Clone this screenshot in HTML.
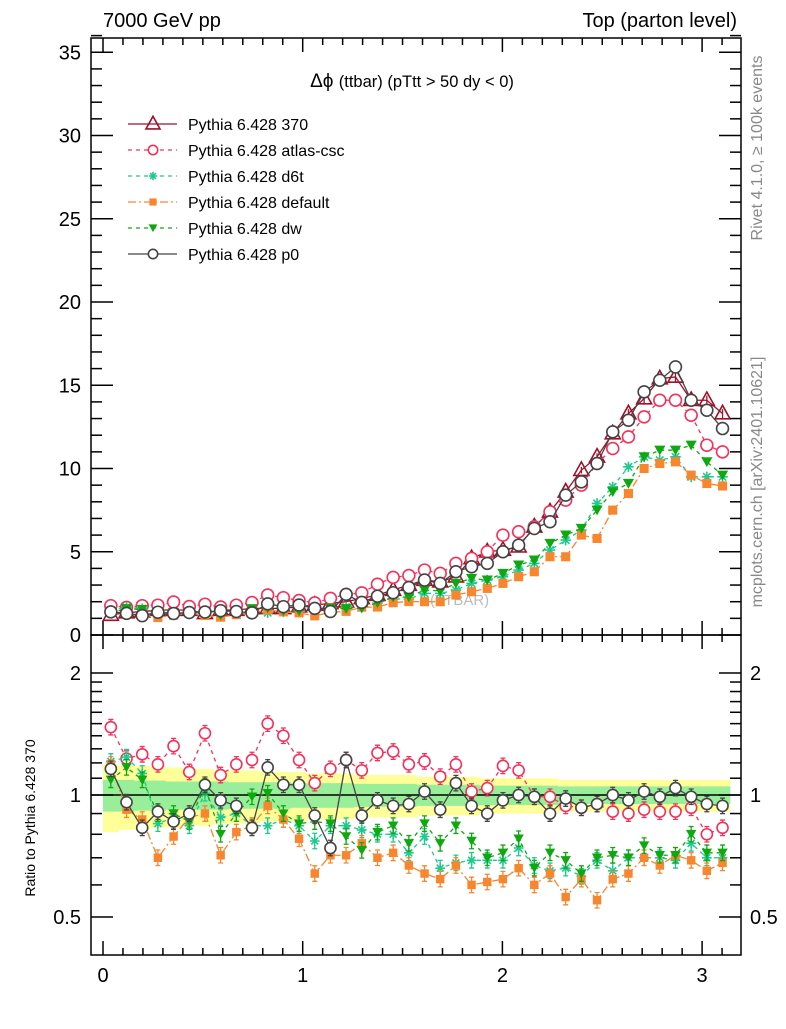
<!DOCTYPE html>
<html><head><meta charset="utf-8"><style>
body{margin:0;background:#fff;width:786px;height:1024px;overflow:hidden}
svg{font-family:"Liberation Sans",sans-serif}
</style></head><body>
<svg id="c" width="786" height="1024" viewBox="0 0 786 1024">
<text x="103" y="27" font-size="20">7000 GeV pp</text>
<text x="737" y="27" font-size="20" text-anchor="end">Top (parton level)</text>
<text x="412" y="87" font-size="19" text-anchor="middle">Δϕ <tspan font-size="16.5">(ttbar) (pTtt &gt; 50 dy &lt; 0)</tspan></text>
<text x="430" y="605" font-size="15" fill="#bbb">(TTBAR)</text>
<text transform="translate(762,148) rotate(-90)" font-size="16" fill="#888" text-anchor="middle">Rivet 4.1.0, ≥ 100k events</text>
<text transform="translate(762,482) rotate(-90)" font-size="16" fill="#888" text-anchor="middle">mcplots.cern.ch [arXiv:2401.10621]</text>
<text transform="translate(35,818) rotate(-90)" font-size="14" text-anchor="middle">Ratio to Pythia 6.428 370</text>
<g id="bands"></g><g id="marks"></g><g id="axes"></g><g id="legend"></g>
</svg>
<script>
const binCount = 40;
const xTicks = [0,1,2,3];
const yTicksMain = [0,5,10,15,20,25,30,35];
const yTicksRatio = [0.5,1,2];
const ref370 = [1.2,1.35,1.4,1.5,1.5,1.5,1.3,1.5,1.5,1.6,1.6,1.6,1.7,1.8,1.9,2.0,2.2,2.4,2.7,3.0,3.3,3.2,3.5,4.6,5.0,5.1,5.3,6.5,7.4,8.6,9.9,10.7,12.1,13.3,14.2,15.4,15.5,14.1,14.1,13.3];
const atlas = [1.76,1.66,1.76,1.79,1.98,1.71,1.85,1.68,1.79,1.95,2.40,2.24,2.07,1.93,2.20,2.44,2.53,3.05,3.46,3.57,3.9,3.7,4.3,4.6,5.0,6.0,6.2,6.5,7.4,8.1,9.0,10.3,11.2,11.9,13.1,14.1,14.1,13.2,11.4,11.0];
const d6t = [1.45,1.67,1.58,1.28,1.32,1.26,1.31,1.32,1.35,1.34,1.34,1.39,1.43,1.39,1.60,1.68,1.80,1.92,2.16,2.16,2.5,2.5,2.7,3.1,3.3,3.5,3.9,4.3,5.1,5.7,6.3,7.9,8.9,10.1,10.7,10.5,10.7,9.5,9.5,9.5];
const deflt = [1.43,1.24,1.22,1.05,1.19,1.32,1.17,1.07,1.22,1.34,1.50,1.39,1.33,1.15,1.35,1.42,1.67,1.68,1.94,2.01,2.0,2.0,2.4,2.6,2.8,3.1,3.5,3.8,4.7,4.7,6.0,5.8,7.5,8.5,10.0,10.3,10.4,9.6,9.1,8.95];
const dw = [1.31,1.58,1.53,1.35,1.35,1.29,1.37,1.20,1.35,1.58,1.62,1.44,1.45,1.55,1.62,1.58,1.61,1.94,2.27,2.28,2.7,2.65,3.1,3.4,3.3,3.7,4.2,4.5,5.5,6.0,6.4,7.5,8.6,9.1,10.7,11.1,11.1,11.4,10.4,9.6];
const p0 = [1.39,1.30,1.16,1.37,1.29,1.35,1.38,1.46,1.41,1.33,1.87,1.70,1.80,1.60,1.41,2.44,1.96,2.33,2.54,2.85,3.3,3.1,3.8,4.1,4.3,5.0,5.4,6.4,6.8,8.4,9.2,10.3,12.2,12.9,14.6,15.3,16.1,14.1,13.5,12.4];
const rAtlas = [1.47,1.23,1.26,1.19,1.32,1.14,1.42,1.12,1.19,1.22,1.50,1.40,1.22,1.07,1.16,1.22,1.15,1.27,1.28,1.19,1.21,1.11,1.19,1.02,1.04,1.18,1.15,0.99,0.99,0.94,0.93,0.95,0.91,0.90,0.92,0.91,0.91,0.93,0.80,0.83];
const rD6t = [1.21,1.24,1.13,0.85,0.88,0.84,1.01,0.88,0.90,0.84,0.84,0.87,0.84,0.77,0.84,0.84,0.82,0.80,0.80,0.72,0.79,0.66,0.68,0.69,0.69,0.69,0.74,0.67,0.65,0.66,0.63,0.69,0.65,0.70,0.70,0.70,0.69,0.76,0.70,0.70];
const rDefault = [1.19,0.92,0.87,0.70,0.79,0.88,0.90,0.71,0.81,0.84,0.94,0.87,0.78,0.64,0.71,0.71,0.76,0.70,0.72,0.67,0.64,0.62,0.67,0.60,0.61,0.62,0.66,0.60,0.64,0.56,0.62,0.55,0.62,0.64,0.70,0.67,0.71,0.69,0.65,0.68];
const rDw = [1.09,1.17,1.09,0.90,0.90,0.86,1.05,0.80,0.90,0.99,1.01,0.90,0.85,0.86,0.85,0.79,0.73,0.81,0.84,0.76,0.85,0.76,0.84,0.77,0.70,0.72,0.78,0.66,0.72,0.69,0.64,0.70,0.71,0.70,0.75,0.71,0.71,0.80,0.72,0.72];
const rP0 = [1.16,0.96,0.83,0.91,0.86,0.90,1.06,0.97,0.94,0.83,1.17,1.06,1.06,0.89,0.74,1.22,0.89,0.97,0.94,0.95,1.02,0.92,1.07,0.94,0.90,0.97,1.00,0.99,0.90,0.98,0.93,0.95,1.00,0.97,1.02,0.99,1.04,0.99,0.95,0.94];
const bandInner = [0.09,0.09,0.085,0.085,0.08,0.08,0.08,0.08,0.075,0.075,0.075,0.075,0.07,0.07,0.07,0.07,0.065,0.065,0.065,0.065,0.06,0.06,0.06,0.06,0.055,0.055,0.055,0.055,0.055,0.05,0.05,0.05,0.05,0.05,0.05,0.05,0.05,0.05,0.05,0.05];
const bandOuter = [0.19,0.18,0.18,0.17,0.17,0.16,0.16,0.15,0.15,0.15,0.14,0.14,0.14,0.13,0.13,0.13,0.12,0.12,0.12,0.12,0.11,0.11,0.11,0.11,0.10,0.10,0.10,0.10,0.10,0.09,0.09,0.09,0.09,0.09,0.09,0.09,0.09,0.09,0.09,0.09];

const NS='http://www.w3.org/2000/svg';
const L=91,R=741,T=38,MB=635,RB=955;
const sx=v=>103+v*199.7;
const sy=v=>MB-v*16.65;
const sr=v=>795-Math.log10(v)*405.3;
const binW=Math.PI/binCount;
const bx=i=>sx((i+0.5)*binW);
function mk(tag,at,parent){const e=document.createElementNS(NS,tag);for(const k in at)e.setAttribute(k,at[k]);parent.appendChild(e);return e;}
const axes=document.getElementById('axes'),marks=document.getElementById('marks'),bands=document.getElementById('bands'),leg=document.getElementById('legend');

function bandPath(arr){let up='',dn='';for(let i=0;i<binCount;i++){const x0=sx(i*binW),x1=sx((i+1)*binW);up+=(i?'L':'M')+x0+','+sr(1+arr[i])+'L'+x1+','+sr(1+arr[i]);}for(let i=binCount-1;i>=0;i--){const x0=sx(i*binW),x1=sx((i+1)*binW);dn+='L'+x1+','+sr(1-arr[i])+'L'+x0+','+sr(1-arr[i]);}return up+dn+'Z';}
const bo=mk('path',{d:bandPath(bandOuter),fill:'#ffff99'},bands);


const bi=mk('path',{d:bandPath(bandInner),fill:'#99ee99'},bands);


const one=mk('line',{x1:L,x2:R,y1:sr(1),y2:sr(1),stroke:'#000','stroke-width':1.5},bands);



const series=[
 {name:'370',main:ref370,ratio:null,color:'#a0102a',dash:'',m:'tri'},
 {name:'atlas-csc',main:atlas,ratio:rAtlas,color:'#f5305a',dash:'4,4',m:'ocirc'},
 {name:'d6t',main:d6t,ratio:rD6t,color:'#1fc98f',dash:'4,4',m:'star'},
 {name:'default',main:deflt,ratio:rDefault,color:'#f7862f',dash:'8,3,2,3',m:'sq'},
 {name:'dw',main:dw,ratio:rDw,color:'#10a810',dash:'4,4',m:'tdown'},
 {name:'p0',main:p0,ratio:rP0,color:'#444',dash:'',m:'circ'}
];
function marker(g,type,x,y,c,s){
 if(type==='tri')mk('path',{d:`M${x},${y-s*1.1}L${x+s},${y+s*0.7}L${x-s},${y+s*0.7}Z`,fill:'none',stroke:c,'stroke-width':1.6},g);
 else if(type==='ocirc'||type==='circ')mk('circle',{cx:x,cy:y,r:s*0.85,fill:'#fff',stroke:c,'stroke-width':1.6},g);
 else if(type==='sq')mk('rect',{x:x-s*0.65,y:y-s*0.65,width:s*1.3,height:s*1.3,fill:c},g);
 else if(type==='tdown')mk('path',{d:`M${x-s*0.8},${y-s*0.65}L${x+s*0.8},${y-s*0.65}L${x},${y+s*0.75}Z`,fill:c},g);
 else if(type==='star'){let d='';for(let k=0;k<4;k++){const a=k*Math.PI/4;d+=`M${x-Math.cos(a)*s*0.75},${y-Math.sin(a)*s*0.75}L${x+Math.cos(a)*s*0.75},${y+Math.sin(a)*s*0.75}`;}mk('path',{d,stroke:c,'stroke-width':1.6},g);}
}
series.forEach(s=>{
 const g=mk('g',{},marks);
 
 
 let d='';s.main.forEach((v,i)=>{d+=(i?'L':'M')+bx(i)+','+sy(v);});
 mk('path',{d,fill:'none',stroke:s.color,'stroke-width':1.3,'stroke-dasharray':s.dash},g);
 s.main.forEach((v,i)=>{const e=v*0.02*16.65;mk('line',{x1:bx(i),x2:bx(i),y1:sy(v)-e,y2:sy(v)+e,stroke:s.color,'stroke-width':1.3},g);
  const p=mk('g',{},g);
  
  
  marker(p,s.m,bx(i),sy(v),s.color,s.m==='tri'?7.5:7);});
 if(s.ratio){
  const gr=mk('g',{},marks);
  
  
  let d2='';s.ratio.forEach((v,i)=>{d2+=(i?'L':'M')+bx(i)+','+sr(v);});
  mk('path',{d:d2,fill:'none',stroke:s.color,'stroke-width':1.3,'stroke-dasharray':s.dash},gr);
  s.ratio.forEach((v,i)=>{const y1=sr(v*1.045),y2=sr(v/1.045),x=bx(i);
   mk('path',{d:`M${x},${y1}L${x},${y2}M${x-2.5},${y1}L${x+2.5},${y1}M${x-2.5},${y2}L${x+2.5},${y2}`,stroke:s.color,'stroke-width':1.3},gr);
   const p=mk('g',{},gr);
   
   
   marker(p,s.m,x,sr(v),s.color,6.5);});
 }
});

[[T,MB],[MB,RB]].forEach(([a,b],k)=>{const f=mk('rect',{x:L,y:a,width:R-L,height:b-a,fill:'none',stroke:'#000','stroke-width':1.5},axes);
 
 });
for(let k=0;k<=31;k++){const v=k/10,x=sx(v),maj=k%10===0,len=maj?14:7;
 [[MB,-1],[T,1],[RB,-1],[MB,1]].forEach(([y,dir])=>mk('line',{x1:x,x2:x,y1:y,y2:y+dir*len,stroke:'#000','stroke-width':1.5},axes));}
xTicks.forEach(v=>{const t=mk('text',{x:sx(v),y:982,'font-size':20,'text-anchor':'middle'},axes);t.textContent=v;
 
 });
for(let v=0;v<=36;v++){const y=sy(v),len=v%5===0?22:11;
 mk('line',{x1:L,x2:L+len,y1:y,y2:y,stroke:'#000','stroke-width':1.5},axes);mk('line',{x1:R,x2:R-len,y1:y,y2:y,stroke:'#000','stroke-width':1.5},axes);}
yTicksMain.forEach(v=>{const t=mk('text',{x:81,y:sy(v)+7,'font-size':20,'text-anchor':'end'},axes);t.textContent=v;
 
 });
const minor=[0.5,0.6,0.7,0.8,0.9,1,1.1,1.2,1.3,1.4,1.5,1.6,1.7,1.8,1.9,2];
minor.forEach(v=>{const y=sr(v),len=yTicksRatio.includes(v)?22:11;
 mk('line',{x1:L,x2:L+len,y1:y,y2:y,stroke:'#000','stroke-width':1.5},axes);mk('line',{x1:R,x2:R-len,y1:y,y2:y,stroke:'#000','stroke-width':1.5},axes);});
yTicksRatio.forEach(v=>{[[81,'end'],[750,'start']].forEach(([x,a])=>{const t=mk('text',{x,y:sr(v)+7,'font-size':20,'text-anchor':a},axes);t.textContent=v;
 
 });});
series.forEach((s,k)=>{const y=124+k*26;const g=mk('g',{},leg);
 
 
 mk('line',{x1:128,x2:177,y1:y,y2:y,stroke:s.color,'stroke-width':1.3,'stroke-dasharray':s.dash},g);
 marker(g,s.m,153,y,s.color,s.m==='tri'?7:5.5);
 const t=mk('text',{x:188,y:y+6,'font-size':16},g);t.textContent='Pythia 6.428 '+s.name;});
</script>
</body></html>
